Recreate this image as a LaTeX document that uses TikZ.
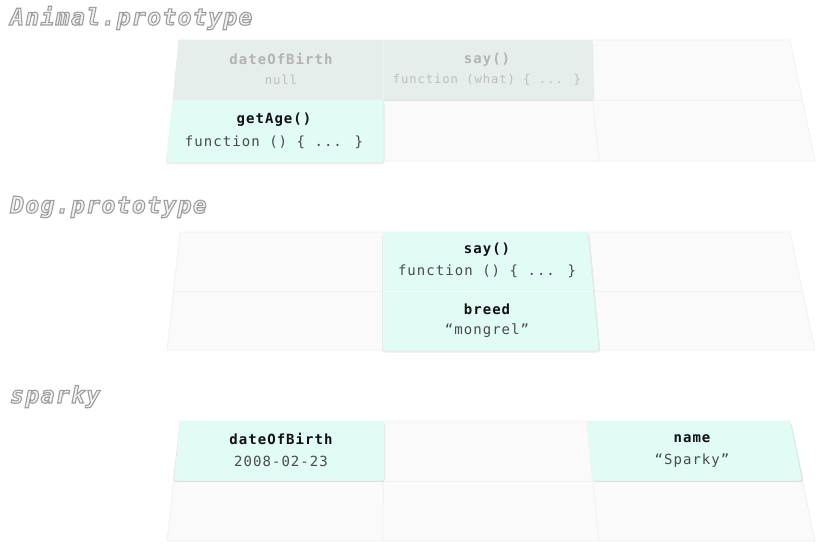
\documentclass[tikz,border=0pt]{standalone}
\usepackage{fontspec}
\setmonofont{DejaVu Sans Mono}
\newfontfamily\cellfont[LetterSpace=7.5]{DejaVu Sans Mono}
\newfontfamily\titlefont[LetterSpace=6]{DejaVu Sans Mono}
\definecolor{plane}{HTML}{FAFAFA}
\definecolor{planeline}{HTML}{F1F1F1}
\definecolor{mint}{HTML}{E0FCF5}
\definecolor{mintgray}{HTML}{E6EEEB}
\definecolor{keyc}{HTML}{111111}
\definecolor{valc}{HTML}{4A4A4A}
\definecolor{fadekey}{HTML}{B3B3B3}
\definecolor{fadeval}{HTML}{BDBDBD}
\newcommand{\mytitle}[1]{\special{pdf:code q 2 Tr 1.1 w 0.62 G 0.95 g}#1\special{pdf:code Q}}
\tikzset{
  planebox/.style={fill=plane, draw=planeline, line width=0.8pt, line join=round},
  gridline/.style={draw=planeline, line width=0.8pt},
  cellbox/.style={fill=mint, rounded corners=2.5pt},
  fadebox/.style={fill=mintgray},
  cellshadow/.style={fill=black, opacity=0.07, rounded corners=3pt},
  keytext/.style={inner sep=0pt, text=keyc, font=\cellfont\fontsize{14}{16}\selectfont\bfseries},
  valtext/.style={inner sep=0pt, text=valc, font=\cellfont\fontsize{14}{16}\selectfont},
  fkeytext/.style={keytext, text=fadekey},
  fvaltext/.style={inner sep=0pt, text=fadeval, font=\cellfont\fontsize{12.2}{14}\selectfont},
  titletext/.style={inner sep=0pt, anchor=base west, font=\titlefont\fontsize{23}{26}\selectfont\bfseries\itshape}
}
\begin{document}
\begin{tikzpicture}[x=1pt,y=-1pt]
\useasboundingbox (0,0) rectangle (825,551);
\fill[white] (0,0) rectangle (825,551);

% ---------- Animal.prototype ----------
\node[titletext] (t1) at (10,25) {\mytitle{Animal.prototype}};
\path[planebox] (180,40) -- (790,40) -- (815,161) -- (167,161) -- cycle;
\path[gridline] (173.5,100) -- (802.5,100);
\path[gridline] (383.3,40) -- (383,161);
\path[gridline] (586.7,40) -- (599,161);
% faded top row
\path[cellshadow] (179,41) -- (593,41) -- (594,101) -- (173,101) -- cycle;
\path[fadebox] (178.5,40) -- (592.5,40) -- (593,99.5) -- (172.5,99.5) -- cycle;
\path[draw=white, opacity=0.5, line width=0.8pt] (383.3,40) -- (383.2,99.5);
% getAge cell
\path[cellshadow] (173,101) -- (384.5,101) -- (384.5,164) -- (165.5,164) -- cycle;
\path[cellbox] (172.5,99.5) -- (383.5,99.5) -- (383.5,162) -- (166,162) -- cycle;
\node[fkeytext] (a1k) at (281,59) {dateOfBirth};
\node[fvaltext] (a1v) at (281,80) {null};
\node[fkeytext] (a2k) at (487,60) {say()};
\node[fvaltext] (a2v) at (487,80) {function (what) \{ ... \}};
\node[keytext] (a3k) at (274,120) {getAge()};
\node[valtext] (a3v) at (274,142) {function () \{ ... \}};

% ---------- Dog.prototype ----------
\node[titletext] (t2) at (10,213) {\mytitle{Dog.prototype}};
\path[planebox] (180,232) -- (790,232) -- (815,350) -- (167,350) -- cycle;
\path[gridline] (173.5,291) -- (802.5,291);
\path[gridline] (383.3,232) -- (383,350);
\path[gridline] (586.7,232) -- (599,350);
\path[cellshadow] (382,233.5) -- (589.5,233.5) -- (600.5,352.5) -- (382,352.5) -- cycle;
\path[cellbox] (382.5,232) -- (587.5,232) -- (599,350.5) -- (382.5,350.5) -- cycle;
\path[draw=white, opacity=0.7, line width=0.8pt] (383,291) -- (592.8,291);
\node[keytext] (d1k) at (487,250) {say()};
\node[valtext] (d1v) at (487,271) {function () \{ ... \}};
\node[keytext] (d2k) at (487,309) {breed};
\node[valtext] (d2v) at (487,331) {“mongrel”};

% ---------- sparky ----------
\node[titletext] (t3) at (10,403) {\mytitle{sparky}};
\path[planebox] (180,421) -- (790,421) -- (815,541) -- (167,541) -- cycle;
\path[gridline] (173.5,481) -- (802.5,481);
\path[gridline] (383.3,421) -- (383,541);
\path[gridline] (586.7,421) -- (599,541);
\path[cellshadow] (180,422.5) -- (385,422.5) -- (385,482) -- (173,482) -- cycle;
\path[cellbox] (180,421) -- (384,421) -- (384,480.5) -- (174,480.5) -- cycle;
\path[cellshadow] (587.5,422.5) -- (791.5,422.5) -- (804,482) -- (593,482) -- cycle;
\path[cellbox] (586.5,421) -- (790,421) -- (802,480.5) -- (592,480.5) -- cycle;
\node[keytext] (s1k) at (281,439) {dateOfBirth};
\node[valtext] (s1v) at (281,461) {2008-02-23};
\node[keytext] (s2k) at (692,439) {name};
\node[valtext] (s2v) at (692,461) {“Sparky”};
\end{tikzpicture}
\end{document}
